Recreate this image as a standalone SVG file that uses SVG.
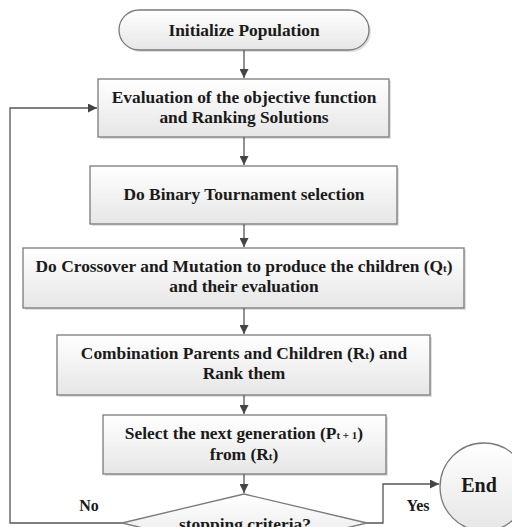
<svg xmlns="http://www.w3.org/2000/svg" width="512" height="527" viewBox="0 0 512 527">
<defs>
<linearGradient id="g" x1="0" y1="0" x2="0" y2="1">
<stop offset="0" stop-color="#ffffff"/>
<stop offset="1" stop-color="#e6e6e6"/>
</linearGradient>
<marker id="ah" viewBox="0 0 10 10" refX="10" refY="5" markerWidth="9" markerHeight="9" markerUnits="userSpaceOnUse" orient="auto">
<path d="M0,0 L10,5 L0,10 Z" fill="#444"/>
</marker>
</defs>
<style>
.box{fill:url(#g);stroke:#7a7a7a;stroke-width:1.3}
.sh{fill:#000;opacity:0.12}
.t{font-family:"Liberation Serif","Times New Roman",serif;font-weight:bold;font-size:17.4px;fill:#1a1a1a;text-anchor:middle}
.lbl{font-size:16px}
.sub{font-size:11px}
.c{fill:none;stroke:#555;stroke-width:1.3}
</style>
<rect width="512" height="527" fill="#ffffff"/>

<g id="connectors">
<path class="c" d="M244,50 V78" marker-end="url(#ah)"/>
<path class="c" d="M244,137 V165" marker-end="url(#ah)"/>
<path class="c" d="M244,224 V247" marker-end="url(#ah)"/>
<path class="c" d="M244,308 V334" marker-end="url(#ah)"/>
<path class="c" d="M244,395 V414" marker-end="url(#ah)"/>
<path class="c" d="M244,474 V493" marker-end="url(#ah)"/>
<path class="c" d="M122,523 H10 V108 H97" marker-end="url(#ah)"/>
<path class="c" d="M367,523 H383 V484 H439" marker-end="url(#ah)"/>
</g>

<g id="n1">
<rect class="sh" x="121" y="12" width="250" height="40" rx="20"/>
<rect class="box" x="119" y="10" width="250" height="40" rx="20"/>
<text class="t" x="244" y="36">Initialize Population</text>
</g>

<g id="n2">
<rect class="sh" x="100" y="81" width="291" height="58"/>
<rect class="box" x="98" y="79" width="291" height="58"/>
<text class="t" x="244" y="103">Evaluation of the objective function</text>
<text class="t" x="244" y="123">and Ranking Solutions</text>
</g>

<g id="n3">
<rect class="sh" x="92" y="168" width="307" height="58"/>
<rect class="box" x="90" y="166" width="307" height="58"/>
<text class="t" x="244" y="200">Do Binary Tournament selection</text>
</g>

<g id="n4">
<rect class="sh" x="25" y="250" width="441" height="60"/>
<rect class="box" x="23" y="248" width="441" height="60"/>
<text class="t" x="244" y="272">Do Crossover and Mutation to produce the children (Q<tspan class="sub">t</tspan>)</text>
<text class="t" x="244" y="292">and their evaluation</text>
</g>

<g id="n5">
<rect class="sh" x="59" y="337" width="373" height="60"/>
<rect class="box" x="57" y="335" width="373" height="60"/>
<text class="t" x="244" y="359">Combination Parents and Children (R<tspan class="sub">t</tspan>) and</text>
<text class="t" x="244" y="379">Rank them</text>
</g>

<g id="n6">
<rect class="sh" x="105" y="417" width="283" height="59"/>
<rect class="box" x="103" y="415" width="283" height="59"/>
<text class="t" x="244" y="439">Select the next generation (P<tspan class="sub">t + 1</tspan>)</text>
<text class="t" x="244" y="460">from (R<tspan class="sub">t</tspan>)</text>
</g>

<g id="n7">
<path class="box" d="M244,494 L367,523 L244,552 L122,523 Z"/>
<text class="t" x="245" y="530">stopping criteria?</text>
</g>

<g id="n8">
<circle class="box" cx="484" cy="487" r="44"/>
<text class="t" x="479" y="492" style="font-size:20px">End</text>
</g>

<g id="labels">
<text class="t lbl" x="89" y="511">No</text>
<text class="t lbl" x="418" y="511">Yes</text>
</g>
</svg>
